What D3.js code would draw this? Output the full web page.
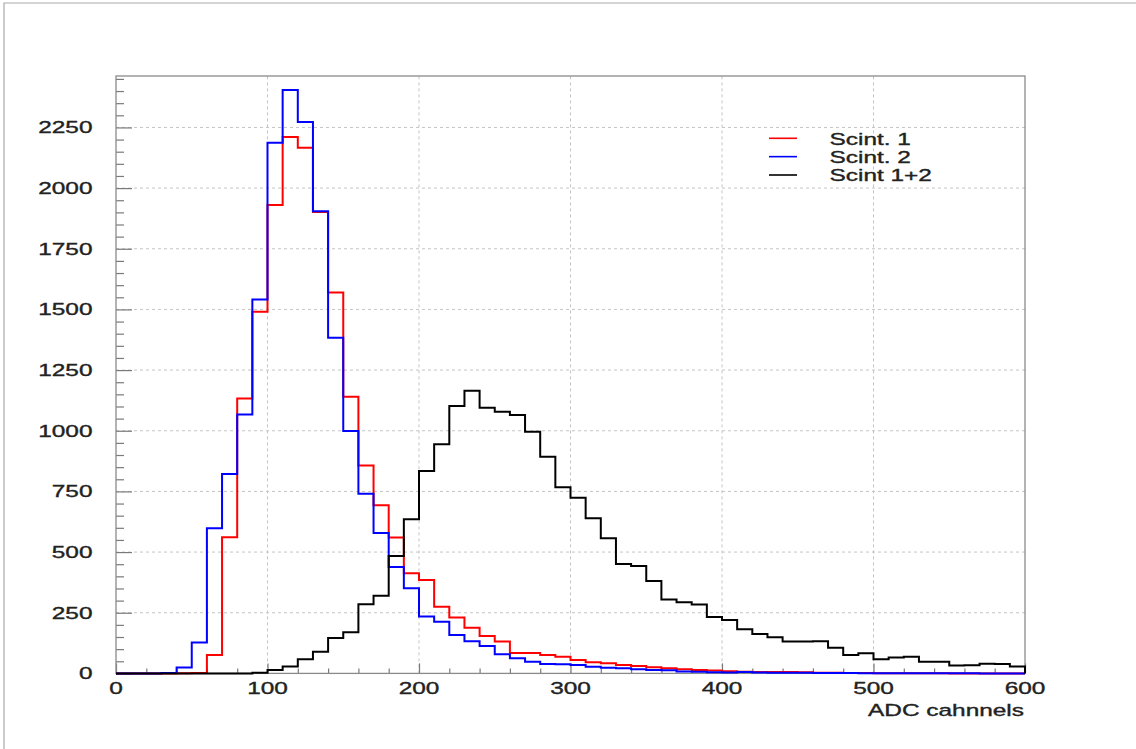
<!DOCTYPE html>
<html>
<head>
<meta charset="utf-8">
<script src="https://cdn.jsdelivr.net/npm/d3@7/dist/d3.min.js"></script>
<style>
  html, body { margin: 0; padding: 0; background: #fff; }
  svg { display: block; }
  text { font-family: "Liberation Sans", Arial, Helvetica, sans-serif; fill: #222; stroke: #222; stroke-width: 0.35px; }
</style>
</head>
<body>
<svg id="chart" width="1136" height="749"></svg>
<script>
// ADC spectra, 60 bins of 10 channels from 0 to 600
const binEdges = d3.range(0, 610, 10);

const scint1 = [
  0, 0, 0, 0, 1, 2, 76, 561, 1133, 1490,
  1930, 2211, 2166, 1902, 1570, 1140, 857, 693, 560, 413,
  385, 275, 230, 188, 154, 131, 84, 84, 76, 69,
  55, 46, 42, 35, 30, 25, 21, 17, 14, 12,
  9, 7, 6, 6, 6, 5, 3, 3, 2, 2,
  1, 1, 1, 1, 1, 0, 0, 0, 0, 0
];

const scint2 = [
  0, 0, 0, 2, 24, 127, 598, 822, 1067, 1541,
  2187, 2404, 2272, 1905, 1383, 999, 740, 579, 438, 351,
  235, 213, 158, 133, 113, 79, 62, 48, 39, 38,
  35, 27, 23, 21, 17, 14, 13, 8, 7, 5,
  4, 6, 4, 3, 3, 3, 2, 2, 2, 1,
  1, 1, 1, 1, 1, 1, 1, 0, 0, 0
];

const scintSum = [
  0, 0, 0, 0, 0, 0, 0, 0, 0, 3,
  14, 28, 58, 89, 146, 170, 285, 320, 484, 635,
  834, 944, 1102, 1165, 1095, 1078, 1065, 996, 893, 767,
  724, 639, 557, 451, 443, 381, 305, 293, 284, 232,
  220, 182, 162, 149, 131, 131, 132, 106, 76, 83,
  58, 66, 69, 48, 48, 33, 34, 40, 39, 28
];

const xTicks = [0, 100, 200, 300, 400, 500, 600];
const yTicks = [0, 250, 500, 750, 1000, 1250, 1500, 1750, 2000, 2250];
const legendLabels = ["Scint. 1", "Scint. 2", "Scint 1+2"];
const xTitle = "ADC cahnnels";

const series = [
  { name: legendLabels[0], values: scint1, color: "#ff0000" },
  { name: legendLabels[1], values: scint2, color: "#0000ff" },
  { name: legendLabels[2], values: scintSum, color: "#000000" }
];

const W = 1136, H = 749;
const margin = { left: 116, right: 111, top: 76, bottom: 75.6 };
const x0 = margin.left, x1 = W - margin.right;
const y0 = H - margin.bottom, y1 = margin.top;
const stretch = 1.48;   // wide lettering
const fontSize = 16.5;

const x = d3.scaleLinear().domain([0, 600]).range([x0, x1]);
const y = d3.scaleLinear().domain([0, 2462]).range([y0, y1]);

const svg = d3.select("#chart");
svg.append("rect").attr("width", W).attr("height", H).attr("fill", "#fff");

// canvas border (top and left edges)
svg.append("path")
  .attr("d", `M4,749 L4,3 L1136,3`)
  .attr("fill", "none").attr("stroke", "#aaa").attr("stroke-width", 1.2);

// grid
const grid = svg.append("g").attr("stroke", "#c4c4c4").attr("stroke-width", 1)
  .attr("stroke-dasharray", "3,3");
grid.selectAll("line.gx").data(xTicks.filter(d => d > 0 && d < 600)).join("line")
  .attr("class", "gx")
  .attr("x1", d => x(d)).attr("x2", d => x(d))
  .attr("y1", y0).attr("y2", y1);
grid.selectAll("line.gy").data(yTicks.filter(d => d > 0)).join("line")
  .attr("class", "gy")
  .attr("x1", x0).attr("x2", x1)
  .attr("y1", d => y(d)).attr("y2", d => y(d));

// axis ticks (drawn inside the frame)
const tickColor = "#7a7a7a";
const yMinor = d3.range(0, 2451, 50).filter(v => v % 250 !== 0);
const xMinor = d3.range(0, 601, 20).filter(v => v % 100 !== 0);

const yAxisMajor = svg.append("g").attr("transform", `translate(${x0},0)`)
  .call(d3.axisRight(y).tickValues(yTicks).tickSize(16).tickFormat(""));
const yAxisMinor = svg.append("g").attr("transform", `translate(${x0},0)`)
  .call(d3.axisRight(y).tickValues(yMinor).tickSize(8).tickFormat(""));
const xAxisMajor = svg.append("g").attr("transform", `translate(0,${y0})`)
  .call(d3.axisTop(x).tickValues(xTicks).tickSize(10).tickFormat(""));
const xAxisMinor = svg.append("g").attr("transform", `translate(0,${y0})`)
  .call(d3.axisTop(x).tickValues(xMinor).tickSize(5).tickFormat(""));
[yAxisMajor, yAxisMinor, xAxisMajor, xAxisMinor].forEach(g => {
  g.select(".domain").remove();
  g.selectAll("line").attr("stroke", tickColor).attr("stroke-width", 1.2);
});

// frame
svg.append("rect")
  .attr("x", x0).attr("y", y1).attr("width", x1 - x0).attr("height", y0 - y1)
  .attr("fill", "none").attr("stroke", "#8a8a8a").attr("stroke-width", 1.3);

// tick labels
svg.append("g").selectAll("text").data(yTicks).join("text")
  .attr("transform", d => `translate(92.5,${y(d) + 6}) scale(${stretch},1)`)
  .attr("text-anchor", "end")
  .attr("font-size", fontSize)
  .text(d => d);
svg.append("g").selectAll("text").data(xTicks).join("text")
  .attr("transform", d => `translate(${x(d)},${y0 + 20.5}) scale(${stretch},1)`)
  .attr("text-anchor", "middle")
  .attr("font-size", fontSize)
  .text(d => d);

// axis title
svg.append("text")
  .attr("transform", `translate(${x1 - 1},${y0 + 43}) scale(${stretch},1)`)
  .attr("text-anchor", "end")
  .attr("font-size", fontSize)
  .text(xTitle);

// histogram outlines
const line = d3.line().x(d => x(d[0])).y(d => y(d[1]));
function stepPoints(values) {
  const pts = [[binEdges[0], 0]];
  values.forEach((v, i) => {
    pts.push([binEdges[i], v]);
    pts.push([binEdges[i + 1], v]);
  });
  pts.push([binEdges[values.length], 0]);
  return pts;
}
svg.append("g").selectAll("path").data(series).join("path")
  .attr("d", d => line(stepPoints(d.values)))
  .attr("fill", "none")
  .attr("stroke", d => d.color)
  .attr("stroke-width", 2)
  .attr("stroke-linejoin", "miter");

// legend
const legend = svg.append("g");
const legendY = d3.scalePoint().domain(legendLabels).range([138.3, 175]);
legend.selectAll("line").data(series).join("line")
  .attr("x1", 769).attr("x2", 797)
  .attr("y1", d => legendY(d.name)).attr("y2", d => legendY(d.name))
  .attr("stroke", d => d.color).attr("stroke-width", 1.6);
legend.selectAll("text").data(series).join("text")
  .attr("transform", d => `translate(829.5,${legendY(d.name) + 6.2}) scale(${stretch},1)`)
  .attr("font-size", fontSize)
  .text(d => d.name);
</script>
</body>
</html>
